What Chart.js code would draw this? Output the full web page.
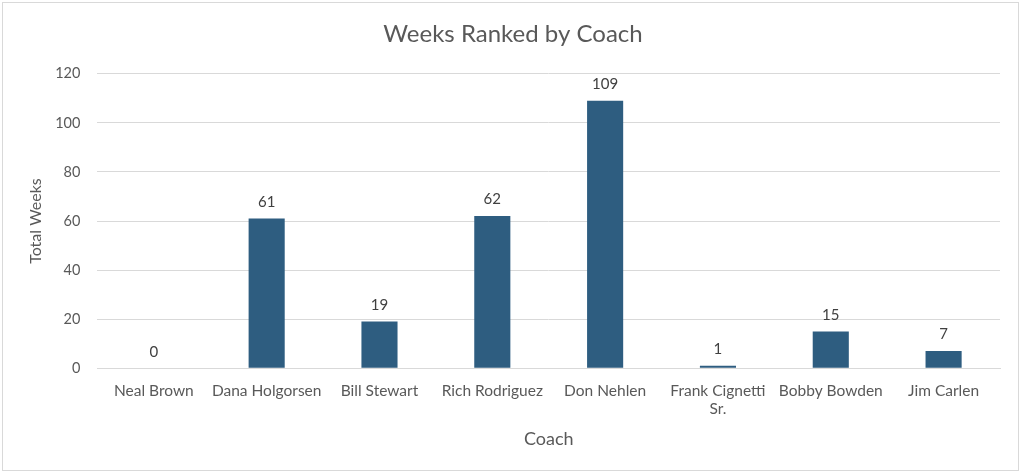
<!DOCTYPE html>
<html>
<head>
<meta charset="utf-8">
<script src="https://cdn.jsdelivr.net/npm/chart.js@4.4.1/dist/chart.umd.min.js"></script>
<style>
  html, body { margin: 0; padding: 0; background: #fff; }
  #frame {
    position: absolute; left: 2px; top: 2px;
    width: 1017px; height: 469px;
    border: 1px solid #d9d9d9; box-sizing: border-box;
  }
  #wrap { position: absolute; left: 0; top: 0; width: 1015px; height: 467px; }
</style>
</head>
<body>
<div id="frame"><div id="wrap"><canvas id="chart"></canvas></div></div>
<script>
const coaches = ['Neal Brown', 'Dana Holgorsen', 'Bill Stewart', 'Rich Rodriguez', 'Don Nehlen', ['Frank Cignetti', 'Sr.'], 'Bobby Bowden', 'Jim Carlen'];
const totalWeeks = [0, 61, 19, 62, 109, 1, 15, 7];
const yTicks = [0, 20, 40, 60, 80, 100, 120];

const BAR_COLOR = '#2e5d80';
const TEXT = '#595959';

Chart.defaults.font.family = 'Lato, "Open Sans", sans-serif';
Chart.defaults.color = TEXT;

// value labels above each bar
const valueLabels = {
    id: 'valueLabels',
    afterDatasetsDraw(chart) {
        const ctx = chart.ctx;
        const meta = chart.getDatasetMeta(0);
        ctx.save();
        ctx.font = '15px Lato, sans-serif';
        ctx.fillStyle = '#404040';
        ctx.textAlign = 'center';
        ctx.textBaseline = 'bottom';
        meta.data.forEach((bar, i) => {
            ctx.fillText(totalWeeks[i], bar.x, bar.y - 9);
        });
        ctx.restore();
    }
};

new Chart(document.getElementById('chart'), {
    type: 'bar',
    data: {
        labels: coaches,
        datasets: [{
            label: 'Total Weeks',
            data: totalWeeks,
            backgroundColor: BAR_COLOR,
            categoryPercentage: 1,
            barPercentage: 0.32
        }]
    },
    options: {
        responsive: true,
        maintainAspectRatio: false,
        animation: false,
        layout: { padding: { top: 13, right: 18, left: 23, bottom: 16 } },
        plugins: {
            legend: { display: false },
            tooltip: { enabled: false },
            title: {
                display: true,
                text: 'Weeks Ranked by Coach',
                color: TEXT,
                font: { size: 24, weight: 'normal' },
                padding: { top: 4, bottom: 25 }
            }
        },
        scales: {
            y: {
                min: 0,
                max: 120,
                afterBuildTicks: axis => { axis.ticks = yTicks.map(v => ({ value: v })); },
                ticks: { font: { size: 14.5 }, color: TEXT, padding: 17 },
                grid: { color: '#d9d9d9', drawTicks: false },
                border: { display: false },
                title: { display: true, text: 'Total Weeks', font: { size: 16 }, color: TEXT, padding: { top: 0, bottom: -7 } }
            },
            x: {
                ticks: { font: { size: 15.5 }, color: TEXT, padding: 13, maxRotation: 0, autoSkip: false },
                grid: { display: false, drawTicks: false },
                border: { color: '#d9d9d9' },
                title: { display: true, text: 'Coach', font: { size: 18 }, color: TEXT, padding: { top: -3 } }
            }
        }
    },
    plugins: [valueLabels]
});
</script>
</body>
</html>
